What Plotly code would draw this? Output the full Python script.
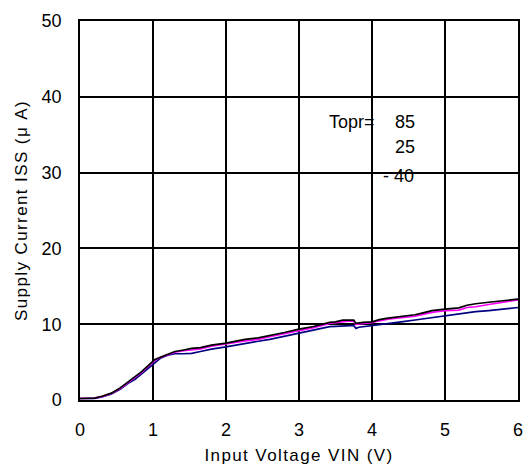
import plotly.graph_objects as go

vin = [0, 0.1, 0.2, 0.3, 0.43, 0.55, 0.66, 0.75, 0.84, 0.93, 1.02, 1.1, 1.2, 1.3, 1.42,
       1.53, 1.65, 1.8, 2.0, 2.13, 2.26, 2.44, 2.6, 2.8, 3.0, 3.2, 3.42, 3.5, 3.6, 3.7,
       3.75, 3.78, 3.82, 3.88, 4.0, 4.1, 4.22, 4.4, 4.59, 4.7, 4.82, 5.0, 5.19, 5.3, 5.42,
       5.6, 5.8, 6.0]

iss_85 = [0.2, 0.2, 0.25, 0.5, 0.9, 1.6, 2.4, 3.0, 3.7, 4.5, 5.3, 5.65, 6.0, 6.4, 6.6,
          6.8, 6.9, 7.25, 7.5, 7.8, 8.0, 8.2, 8.5, 8.9, 9.36, 9.7, 10.25, 10.3, 10.55, 10.6,
          10.55, 10.1, 10.2, 10.25, 10.3, 10.6, 10.8, 11.0, 11.25, 11.5, 11.8, 12.0, 12.15, 12.5, 12.7,
          12.9, 13.1, 13.3]

iss_25 = [0.2, 0.2, 0.25, 0.45, 0.85, 1.5, 2.3, 2.9, 3.6, 4.4, 5.2, 5.6, 6.0, 6.3, 6.5,
          6.6, 6.75, 7.1, 7.35, 7.6, 7.8, 8.0, 8.35, 8.75, 9.2, 9.55, 10.1, 10.2, 10.4, 10.45,
          10.4, 9.95, 10.05, 10.1, 10.2, 10.45, 10.65, 10.85, 11.05, 11.3, 11.55, 11.8, 11.85, 12.2, 12.3,
          12.6, 12.95, 13.2]

iss_m40 = [0.2, 0.2, 0.2, 0.4, 0.8, 1.4, 2.2, 2.7, 3.4, 4.1, 4.9, 5.5, 5.9, 6.1, 6.1,
           6.15, 6.4, 6.7, 7.0, 7.25, 7.5, 7.75, 8.0, 8.4, 8.8, 9.15, 9.67, 9.7, 9.8, 9.8,
           9.8, 9.45, 9.6, 9.67, 9.76, 9.9, 10.1, 10.3, 10.55, 10.7, 10.9, 11.1, 11.35, 11.5, 11.65,
           11.8, 12.0, 12.2]

fig = go.Figure()
fig.add_trace(go.Scatter(x=vin, y=iss_m40, mode="lines", line=dict(color="#000080", width=1.7), name="-40"))
fig.add_trace(go.Scatter(x=vin, y=iss_25, mode="lines", line=dict(color="#FF00FF", width=1.7), name="25"))
fig.add_trace(go.Scatter(x=vin, y=iss_85, mode="lines", line=dict(color="#000000", width=1.7), name="85"))

font = "Liberation Sans, Arial, sans-serif"
afont = dict(family=font, size=18, color="black")
fig.add_annotation(x=4.064, y=36.7, text="Topr=", showarrow=False, xanchor="right", font=afont)
fig.add_annotation(x=4.29, y=36.7, text="85", showarrow=False, xanchor="left", font=afont)
fig.add_annotation(x=4.29, y=33.4, text="25", showarrow=False, xanchor="left", font=afont)
fig.add_annotation(x=4.13, y=29.6, text="- 40", showarrow=False, xanchor="left", font=afont)

fig.update_layout(
    width=527, height=468,
    margin=dict(l=80, r=9, t=21, b=68),
    plot_bgcolor="white", paper_bgcolor="white",
    showlegend=False,
    font=dict(family=font, size=18, color="black"),
)
fig.update_xaxes(range=[0, 6], dtick=1, showgrid=True, gridcolor="black", gridwidth=1.5,
                 showline=True, linecolor="black", linewidth=1.5, mirror=True, zeroline=False,
                 ticks="", ticklabelstandoff=13, automargin=False,
                 title=dict(text='<span style="letter-spacing:1.4px">Input Voltage VIN (V)</span>',
                            font=dict(size=17), standoff=10))
fig.update_yaxes(range=[0, 50], dtick=10, showgrid=True, gridcolor="black", gridwidth=1.5,
                 showline=True, linecolor="black", linewidth=1.5, mirror=True, zeroline=False,
                 ticks="", ticklabelstandoff=13, automargin=False,
                 title=dict(text='<span style="letter-spacing:1.4px">Supply Current ISS (μ A)</span>',
                            font=dict(size=17), standoff=10))

fig.write_html("out.html", config={"displayModeBar": False},
               post_script="document.body.style.margin='0';")
